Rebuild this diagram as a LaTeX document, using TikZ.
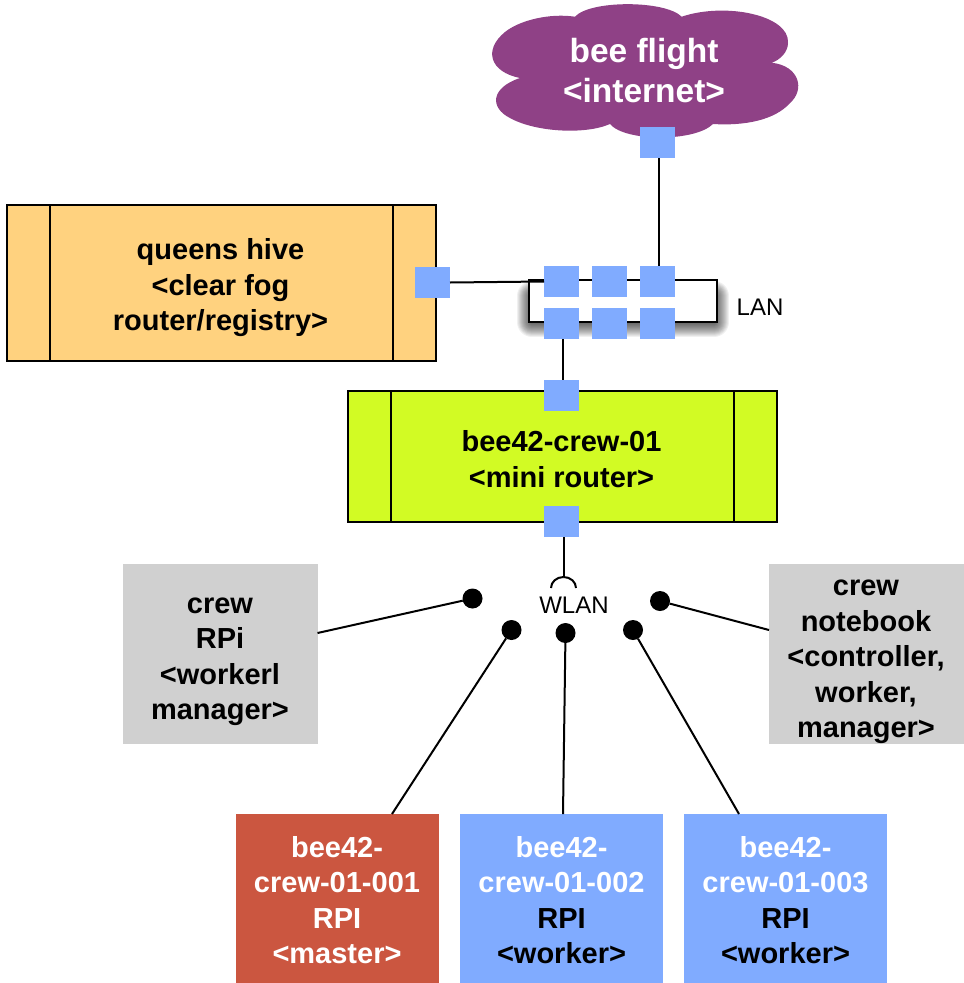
\documentclass[tikz,border=0pt]{standalone}
\usepackage{fontspec}
\setmainfont{Liberation Sans}
\usepackage{tikz}
\definecolor{beepurple}{HTML}{8F4186}
\definecolor{portblue}{HTML}{80ABFF}
\definecolor{hiveorange}{HTML}{FFD27F}
\definecolor{crewgreen}{HTML}{D2FB24}
\definecolor{rpigray}{HTML}{D0D0D0}
\definecolor{masterred}{HTML}{CB5640}

\begin{document}
\begin{tikzpicture}[x=1pt,y=-1pt,line width=2pt]
  \tikzstyle{every node}=[inner sep=0pt,outer sep=0pt,align=center]
  \tikzstyle{boldtext}=[font=\fontsize{29}{35.5}\selectfont\bfseries]
  \tikzstyle{plaintext}=[font=\fontsize{24}{28}\selectfont]
  \tikzstyle{port}=[fill=portblue,minimum width=35pt,minimum height=31pt]
  \tikzstyle{dot}=[circle,fill=black,minimum size=20pt]
  \tikzstyle{rack}=[draw=black,minimum height=131pt,minimum width=429pt]
  \tikzstyle{rpibox}=[minimum width=203pt,minimum height=169pt]
  \tikzstyle{crewbox}=[fill=rpigray,minimum width=195pt,minimum height=180pt]
  \useasboundingbox (0,0) rectangle (964,983);
  % cloud
  \fill[beepurple] (575,16.7) .. controls (590,0) and (665,0) .. (681.7,16.7)
    .. controls (725,2) and (790,15) .. (788,43) .. controls (788,52) and (780,60) .. (771.7,62.7)
    .. controls (800,66) and (805,90) .. (790,103) .. controls (775,120) and (745,126) .. (713,124)
    .. controls (695,142) and (625,142) .. (610,124) .. controls (585,135) and (535,132) .. (510,118)
    .. controls (490,108) and (490,88) .. (520,78) .. controls (490,72) and (483,50) .. (505,32)
    .. controls (520,20) and (550,13) .. (575,16.7) -- cycle;
  \node (flight) at (644,71)[font=\fontsize{33.5}{40}\selectfont\bfseries,text=white]{bee flight\\\textless internet\textgreater};
  % lan shadow
  \foreach \w in {2,4,...,30}
    \draw[line width=\w pt,black,opacity=0.06,line join=round] (532,296) rectangle (714,322);
  \node (lan) at (623,301)[draw=black,fill=white,minimum width=188pt,minimum height=42pt]{};
  \node (lanlabel) at (760,307)[plaintext]{LAN};
  % boxes
  \node (hive) at (221.5,283)[rack,fill=hiveorange,minimum height=156pt]{};
  \node (hivetext) at (220.5,288)[boldtext]{queens hive\\\textless clear fog\\router/registry\textgreater};
  \node (crew) at (562.5,456.5)[rack,fill=crewgreen]{};
  \node (crewtext) at (561.5,459)[boldtext]{bee42-crew-01\\\textless mini router\textgreater};
  \foreach \n in {hive,crew} {
    \draw ([xshift=43pt]\n.north west) -- ([xshift=43pt]\n.south west);
    \draw ([xshift=-43pt]\n.north east) -- ([xshift=-43pt]\n.south east);
  }
  \node (rpi) at (220,654)[crewbox]{};
  \node (rpitext) at (220,662)[boldtext]{crew\\RPi\\\textless workerl\\manager\textgreater};
  \node (notebook) at (866.5,654)[crewbox]{};
  \node (notebooktext) at (866,662)[boldtext]{crew\\notebook\\\textless controller,\\worker,\\manager\textgreater};
  \node (master) at (337.5,898.5)[rpibox,fill=masterred]{};
  \node (mastertext) at (337,900)[boldtext,text=white]{bee42-\\crew-01-001\\RPI\\\textless master\textgreater};
  \node (workera) at (561.5,898.5)[rpibox,fill=portblue]{};
  \node (workeratext) at (561.5,900)[boldtext]{\textcolor{white}{bee42-}\\\textcolor{white}{crew-01-002}\\RPI\\\textless worker\textgreater};
  \node (workerb) at (785.5,898.5)[rpibox,fill=portblue]{};
  \node (workerbtext) at (785.5,900)[boldtext]{\textcolor{white}{bee42-}\\\textcolor{white}{crew-01-003}\\RPI\\\textless worker\textgreater};
  % ports
  \node (pcloud) at (657.5,142.5)[port]{};
  \node (phive) at (432.5,282.5)[port]{};
  \node (lana) at (561.5,281.5)[port]{};
  \node (lanb) at (609.5,281.5)[port]{};
  \node (lanc) at (657.5,281.5)[port]{};
  \node (land) at (561.5,323.5)[port]{};
  \node (lane) at (609.5,323.5)[port]{};
  \node (lanf) at (657.5,323.5)[port]{};
  \node (pcrewup) at (561.5,395.5)[port]{};
  \node (pcrewdown) at (561.5,521.5)[port]{};
  % wlan
  \node (wlan) at (574,605)[plaintext]{WLAN};
  \coordinate (wlantop) at (563.5,577);
  \draw (wlantop) .. controls +(-7,0) and +(0,-6) .. +(-12.5,11);
  \draw (wlantop) .. controls +(7,0) and +(0,-6) .. +(12.5,11);
  \node (dota) at (472.5,598.5)[dot]{};
  \node (dotb) at (511.5,630)[dot]{};
  \node (dotc) at (565.5,633)[dot]{};
  \node (dotd) at (633,630)[dot]{};
  \node (dote) at (660,601)[dot]{};
  % links
  \draw (phive.east) -- (lana.west);
  \draw ([xshift=1.5pt]pcloud.south) -- ([xshift=1.5pt]lanc.north);
  \draw ([xshift=1pt]land.south) -- ([xshift=1pt]pcrewup.north);
  \draw ([xshift=2pt]pcrewdown.south) -- (wlantop);
  \draw (rpi.east |- 0,633) -- (dota);
  \draw (notebook.west |- 0,630) -- (dote);
  \draw (392,814) coordinate (mastertop) -- (dotb);
  \draw (workera.north) ++(1.5,0) -- (dotc);
  \draw (739,814) coordinate (workertop) -- (dotd);
\end{tikzpicture}
\end{document}
